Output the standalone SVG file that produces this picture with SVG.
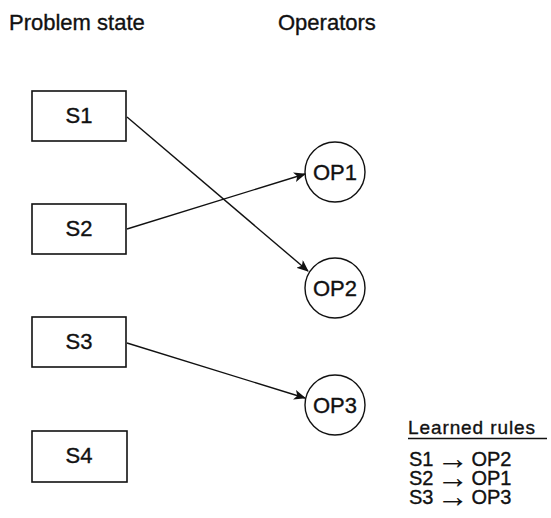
<svg xmlns="http://www.w3.org/2000/svg" width="551" height="518" viewBox="0 0 551 518">
  <style>
    text { font-family: "Liberation Sans", Arial, Helvetica, sans-serif; fill: #111; stroke: #111; stroke-width: 0.35px; }
    .head { font-size: 22px; }
    .lbl { font-size: 22px; text-anchor: middle; }
    .rule { font-size: 20px; }
    .arr { font-size: 32px; stroke-width: 0.1px; }
    .box { fill: #fff; stroke: #111; stroke-width: 1.6; }
    .op { fill: #fff; stroke: #111; stroke-width: 1.4; }
    .edge { fill: none; stroke: #111; stroke-width: 1.4; marker-end: url(#arrow); }
  </style>
  <defs>
    <marker id="arrow" viewBox="0 0 12 10" refX="11" refY="5" markerWidth="12" markerHeight="10" markerUnits="userSpaceOnUse" orient="auto">
      <path d="M0,0 L12,5 L0,10 L3,5 Z" fill="#111"/>
    </marker>
  </defs>

  <rect width="551" height="518" fill="#fff"/>

  <!-- column headings -->
  <text class="head" x="9" y="30">Problem state</text>
  <text class="head" x="278" y="30">Operators</text>

  <!-- problem states -->
  <g id="s1">
    <rect class="box" x="32" y="91" width="94" height="50"/>
    <text class="lbl" x="79" y="123">S1</text>
  </g>
  <g id="s2">
    <rect class="box" x="32" y="204" width="94" height="50"/>
    <text class="lbl" x="79" y="236">S2</text>
  </g>
  <g id="s3">
    <rect class="box" x="32" y="317" width="94" height="50"/>
    <text class="lbl" x="79" y="349">S3</text>
  </g>
  <g id="s4">
    <rect class="box" x="32" y="431" width="95" height="51"/>
    <text class="lbl" x="79" y="463">S4</text>
  </g>

  <!-- operators -->
  <g id="op1">
    <circle class="op" cx="335" cy="172" r="30"/>
    <text class="lbl" x="335" y="180">OP1</text>
  </g>
  <g id="op2">
    <circle class="op" cx="335" cy="288" r="30"/>
    <text class="lbl" x="335" y="296">OP2</text>
  </g>
  <g id="op3">
    <circle class="op" cx="335" cy="405" r="30"/>
    <text class="lbl" x="335" y="413">OP3</text>
  </g>

  <!-- state to operator links -->
  <g id="connectors">
    <line class="edge" x1="127" y1="117" x2="308" y2="271"/>
    <line class="edge" x1="127" y1="229" x2="305" y2="174"/>
    <line class="edge" x1="127" y1="343" x2="305" y2="398"/>
  </g>

  <!-- learned rules list; the arrow glyph is set larger and dropped to sit at mid-height -->
  <g id="rules">
    <text class="rule" x="408" y="434" style="font-size:19px; letter-spacing:0.9px">Learned rules</text>
    <line x1="408" y1="438.5" x2="547" y2="438.5" stroke="#111" stroke-width="1.4"/>
    <text class="rule" x="409" y="466">S1<tspan class="arr" dx="3" dy="3">→</tspan><tspan dx="3" dy="-3">OP2</tspan></text>
    <text class="rule" x="409" y="485">S2<tspan class="arr" dx="3" dy="3">→</tspan><tspan dx="3" dy="-3">OP1</tspan></text>
    <text class="rule" x="409" y="504">S3<tspan class="arr" dx="3" dy="3">→</tspan><tspan dx="3" dy="-3">OP3</tspan></text>
  </g>
</svg>
